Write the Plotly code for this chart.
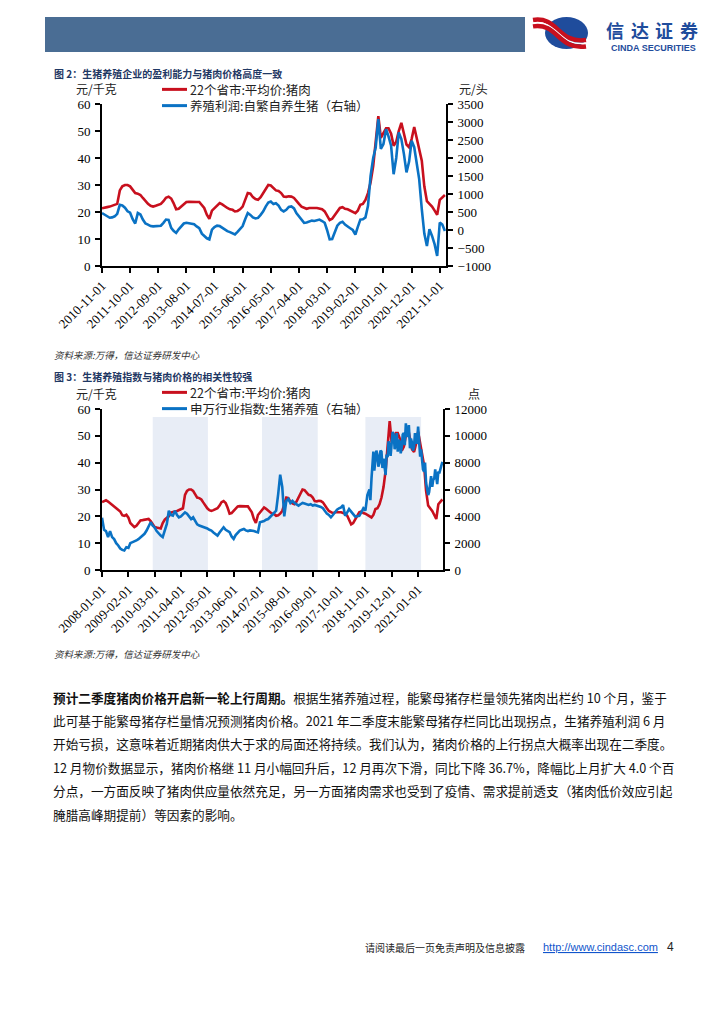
import plotly.graph_objects as go
import pandas as pd

# the page body adds an 8px margin, so the figure is drawn 8px smaller and
# every page coordinate is shifted by that margin
PAGE_W, PAGE_H = 724, 1024
OFF = 8
W, H = PAGE_W - OFF, PAGE_H - OFF
CJK = "Noto Sans CJK SC"
SERIF = "Liberation Serif"
RED = "#C8101E"
BLUE = "#0A72C4"
NAVY = "#1F3864"

# ---------------- data ----------------
pork_start = "2008-01-01"
pork_price = [
    25.3, 25.6, 26.0, 25.5, 24.9, 24.2, 23.5, 23.0, 22.6, 21.8, 20.4, 20.2,
    20.6, 19.5, 17.5, 16.6, 16.0, 16.5, 17.5, 18.5, 18.6, 18.8, 19.0, 19.0,
    18.2, 17.0, 16.0, 15.8, 15.6, 15.5, 17.5, 18.8, 19.5, 20.0, 21.4, 21.5,
    21.8, 22.0, 22.3, 22.5, 23.0, 28.0, 29.5, 30.0, 30.0, 29.5, 28.0, 27.0,
    26.8, 26.3, 25.2, 24.0, 23.0, 22.3, 22.0, 22.3, 22.7, 23.0, 24.0, 25.3,
    25.7, 25.0, 23.3, 21.0, 21.2, 22.0, 23.0, 23.7, 23.8, 23.7, 23.6, 23.7,
    23.7, 22.5, 21.5, 19.0, 17.5, 20.5, 21.5, 22.5, 23.3, 22.8, 22.0, 21.5,
    21.0, 20.8, 20.2, 20.4, 21.0, 22.0, 24.5, 27.0, 26.8, 25.5, 24.8, 24.5,
    25.5, 27.0, 28.5, 30.0, 29.8, 29.0, 28.0, 27.8, 27.0, 25.7, 25.6, 25.8,
    25.7, 25.2, 24.0, 23.0, 22.0, 21.5, 21.2, 21.5, 21.6, 21.5, 21.5, 21.3,
    21.0, 20.2, 18.5, 17.0, 17.5, 19.0, 20.5, 21.5, 21.8, 21.2, 21.0, 20.5,
    20.0, 19.6, 20.5, 22.7, 23.0, 24.5, 27.0, 31.0, 37.0, 45.0, 55.5, 47.5,
    49.0, 51.0, 51.0, 49.0, 44.5, 46.0, 50.0, 53.0, 49.0, 45.0, 44.0, 47.0,
    51.5, 47.0, 44.0, 39.0, 29.5, 24.0, 23.0, 22.0, 20.5, 19.0, 24.5, 25.5,
    26.3,
]

profit_start = "2010-11-01"
hog_profit = [
    470, 420,
    380, 340, 350, 380, 450, 700, 680, 620, 520, 480, 300, 180,
    470, 430, 290, 180, 150, 110, 100, 110, 110, 120, 200, 290,
    280, 60, -20, -80, 20, 110, 180, 200, 190, 170, 160, 100,
    50, -100, -170, -230, -260, 10, 80, 120, 110, 60, 0, -30,
    -60, -100, -125, -50, 40, 110, 300, 470, 420, 350, 320, 335,
    420, 517, 650, 760, 790, 720, 745, 680, 560, 517, 560, 640,
    655, 600, 470, 380, 280, 200, 210, 245, 260, 250, 270, 290,
    250, 200, 0, -260, -250, -50, 120, 200, 230, 150, 110, 50,
    0, -125, 80, 290, 300, 350, 670, 1500, 2000, 2300, 3080, 2250,
    2390, 2800, 2600, 2340, 1550, 2000, 2710, 2525, 2100, 1600, 1900, 2480,
    2300, 1876, 1412, 577, -100, -443, 20, -165, -400, -722, 206, 150,
    -26,
]

# Shenwan hog-farming index, start-of-month readings
index_start = "2008-01-01"
sw_index = [
    3900, 3000, 2900, 2450, 2900, 2450, 2300, 2000, 1830, 1600, 1500, 1450,
    1700, 1650, 2000, 2070, 2100, 2200, 2300, 2450, 2570, 2700, 2940, 3200,
    3560, 3300, 3185, 2900, 2700, 2570, 2450, 2900, 3430, 4420, 4100, 4050,
    4420, 4100, 3925, 4000, 4150, 4300, 4200, 4000, 3800, 3925, 3600, 3400,
    3310, 3250, 3200, 3185, 3100, 3000, 2940, 2800, 2700, 2570, 2800, 3000,
    3185, 3000, 2900, 2820, 2500, 2320, 2600, 2800, 2940, 3000, 3060, 2950,
    2900, 2950, 2940, 2900, 2850, 2810, 3560, 3600, 3650, 3750, 3800, 3950,
    4100, 4250, 4420, 5650, 7100, 6200, 4000, 5160, 5300, 5000, 5160, 5000,
    4900, 4800, 4900, 5000, 4950, 4910, 4850, 4900, 4800, 4850, 4800, 4800,
    4700, 4600, 4420, 4200, 4100, 3925, 4100, 4300, 4500, 4600, 4670, 4840,
    4040, 4300, 4540, 4350, 4180, 3975, 4000, 4040, 4300, 4600, 4420, 5590,
    6000, 6830, 8820, 8200, 8570, 8000, 8820, 8300, 7080, 8400, 9190, 9500,
    10060, 9500, 8820, 9560, 9200, 10200, 10930, 10000, 9070, 9500, 9190, 9800,
    10680, 8450, 8000, 7330, 6500, 5590, 6580, 6200, 6830, 6900, 7330, 7500,
    8070,
]
# mid-month readings of the same index for the volatile 2019-2021 stretch
index_mid_start = "2019-01-01"
sw_index_mid = [
    5200, 8200, 7400, 8900, 7700, 8900, 7600, 7800, 8600, 9600, 8500, 10300,
    9000, 10200, 9700, 8700, 10100, 9300, 10000, 10800, 9800, 8900, 10200, 9400,
    9500, 9000, 7500, 8000, 6000, 5800, 7000, 6700, 7500, 6400, 7200, 7900,
]

chart1_ticks = ["2010-11-01", "2011-10-01", "2012-09-01", "2013-08-01", "2014-07-01",
                "2015-06-01", "2016-05-01", "2017-04-01", "2018-03-01", "2019-02-01",
                "2020-01-01", "2020-12-01", "2021-11-01"]
chart2_ticks = ["2008-01-01", "2009-02-01", "2010-03-01", "2011-04-01", "2012-05-01",
                "2013-06-01", "2014-07-01", "2015-08-01", "2016-09-01", "2017-10-01",
                "2018-11-01", "2019-12-01", "2021-01-01"]
shade_periods = [("2010-02-01", "2012-05-10"),
                 ("2014-08-01", "2016-11-15"),
                 ("2018-11-01", "2021-02-15")]
shade_top = 57

series1_name = "22个省市:平均价:猪肉"
series2_name = "养殖利润:自繁自养生猪（右轴）"
series3_name = "申万行业指数:生猪养殖（右轴）"

# ---------------- helpers ----------------
def px(x):
    return (x - OFF) / W

def py(y):
    return 1 - (y - OFF) / H

pork_dates = pd.date_range(pork_start, periods=len(pork_price), freq="MS")
profit_dates = pd.date_range(profit_start, periods=len(hog_profit), freq="MS")

idx_a = pd.DataFrame({"d": pd.date_range(index_start, periods=len(sw_index), freq="MS"),
                      "v": sw_index})
idx_b = pd.DataFrame({"d": pd.date_range(index_mid_start, periods=len(sw_index_mid), freq="MS")
                      + pd.Timedelta(days=14), "v": sw_index_mid})
idx = pd.concat([idx_a, idx_b]).sort_values("d")

pork_df = pd.DataFrame({"d": pork_dates, "v": pork_price})
pork1 = pork_df[pork_df["d"] >= pd.Timestamp(profit_start)]

LW = 2.6
fig = go.Figure()
fig.add_trace(go.Scatter(x=pork1["d"], y=pork1["v"], mode="lines", name=series1_name,
                         line=dict(color=RED, width=LW), xaxis="x", yaxis="y", showlegend=False))
fig.add_trace(go.Scatter(x=profit_dates, y=hog_profit, mode="lines", name=series2_name,
                         line=dict(color=BLUE, width=LW), xaxis="x", yaxis="y2", showlegend=False))
fig.add_trace(go.Scatter(x=pork_dates, y=pork_price, mode="lines", name=series1_name,
                         line=dict(color=RED, width=LW), xaxis="x2", yaxis="y3", showlegend=False))
fig.add_trace(go.Scatter(x=idx["d"], y=idx["v"], mode="lines", name=series3_name,
                         line=dict(color=BLUE, width=LW), xaxis="x2", yaxis="y4", showlegend=False))

tickfont = dict(family=SERIF, size=13, color="black")
common_x = dict(type="date", tickangle=-45, ticks="outside", ticklen=5, tickwidth=1.5,
                tickcolor="black", showline=True, linecolor="black", linewidth=2,
                showgrid=False, zeroline=False, tickfont=tickfont, automargin=False)
common_y = dict(ticks="outside", ticklen=5, tickwidth=1.5, tickcolor="black",
                showline=True, linecolor="black", linewidth=2, showgrid=False,
                zeroline=False, tickfont=tickfont, ticklabelstandoff=2,
                automargin=False, tickformat="d")

fig.update_layout(
    width=W, height=H, margin=dict(l=0, r=0, t=0, b=0, autoexpand=False),
    paper_bgcolor="white", plot_bgcolor="rgba(0,0,0,0)", showlegend=False,
    xaxis=dict(domain=[px(102), px(446)], anchor="y",
               range=["2010-11-01", "2022-01-14"],
               tickvals=chart1_ticks, ticktext=chart1_ticks, **common_x),
    yaxis=dict(domain=[py(266), py(104)], anchor="x", range=[0, 60], dtick=10, **common_y),
    yaxis2=dict(overlaying="y", anchor="x", side="right", range=[-1000, 3500], dtick=500, **common_y),
    xaxis2=dict(domain=[px(102), px(443)], anchor="y3",
                range=["2008-01-01", "2022-01-10"],
                tickvals=chart2_ticks, ticktext=chart2_ticks, **common_x),
    yaxis3=dict(domain=[py(570), py(409)], anchor="x2", range=[0, 60], dtick=10, **common_y),
    yaxis4=dict(overlaying="y3", anchor="x2", side="right", range=[0, 12000], dtick=2000, **common_y),
)

shapes = []
# shaded periods
for s0, s1 in shade_periods:
    shapes.append(dict(type="rect", xref="x2", yref="y3", x0=s0, x1=s1, y0=0, y1=shade_top,
                       fillcolor="#E8EDF6", line=dict(width=0), layer="below"))
# header bar
shapes.append(dict(type="rect", xref="paper", yref="paper", x0=px(45), x1=px(525),
                   y0=py(52), y1=py(17), fillcolor="#4A6D94", line=dict(width=0)))
# logo sphere
shapes.append(dict(type="circle", xref="paper", yref="paper", x0=px(545), x1=px(588),
                   y0=py(49), y1=py(17), fillcolor="#1F4C9C", line=dict(width=0)))

def path(points):
    s = "M {} {}".format(px(points[0][0]), py(points[0][1]))
    s += " C " + " ".join("{} {}".format(px(a), py(b)) for a, b in points[1:])
    return s

for off, col, w in [(0, RED, 4.5), (3.2, "white", 1.5), (6.4, RED, 4.5)]:
    shapes.append(dict(type="path", xref="paper", yref="paper",
                       path=path([(533, 20 + off), (558, 16 + off), (558, 44 + off), (586, 40 + off)]),
                       line=dict(color=col, width=w)))

ann = []
def text(x, y, s, size, color="#222", family=CJK, anchor="left", yanchor="middle", **kw):
    ann.append(dict(x=px(x), y=py(y), xref="paper", yref="paper", text=s, showarrow=False,
                    xanchor=anchor, yanchor=yanchor,
                    font=dict(family=family, size=size, color=color), **kw))

LEG_FS = 12.5
def legend_block(yc, items):
    # one two-line text block; line centres sit half a line-height above/below yc
    half = LEG_FS * 1.3 / 2
    for (color, _), yy in zip(items, (yc - half, yc + half)):
        shapes.append(dict(type="line", xref="paper", yref="paper", x0=px(162), x1=px(187),
                           y0=py(yy), y1=py(yy), line=dict(color=color, width=3)))
    text(189, yc, "<br>".join(lbl for _, lbl in items), LEG_FS, borderpad=0, align="left")

# logo text
for i, ch in enumerate("信达证券"):
    text(615 + i * 24.5, 30.5, "<b>" + ch + "</b>", 18, color="#1F4C9C", anchor="center")
text(653, 48, "<b>CINDA SECURITIES</b>", 9, color="#1F4C9C", family="Liberation Sans", anchor="center")

# chart 1 texts
text(52, 73, "<b>图 2：生猪养殖企业的盈利能力与猪肉价格高度一致</b>", 10, color=NAVY)
text(74, 88.5, "元/千克", 12)
text(457, 88.5, "元/头", 12)
legend_block(97.5, [(RED, series1_name), (BLUE, series2_name)])
text(52, 355, "<i>资料来源:万得，信达证券研发中心</i>", 9.5, color="#333")

# chart 2 texts
text(52, 376, "<b>图 3：生猪养殖指数与猪肉价格的相关性较强</b>", 10, color=NAVY)
text(74, 393, "元/千克", 12)
text(466, 393, "点", 12)
legend_block(400.5, [(RED, series1_name), (BLUE, series3_name)])
text(52, 654, "<i>资料来源:万得，信达证券研发中心</i>", 9.5, color="#333")

# body text
body_lines = [
    "<b>预计二季度猪肉价格开启新一轮上行周期。</b>根据生猪养殖过程，能繁母猪存栏量领先猪肉出栏约 10 个月，鉴于",
    "此可基于能繁母猪存栏量情况预测猪肉价格。2021 年二季度末能繁母猪存栏同比出现拐点，生猪养殖利润 6 月",
    "开始亏损，这意味着近期猪肉供大于求的局面还将持续。我们认为，猪肉价格的上行拐点大概率出现在二季度。",
    "12 月物价数据显示，猪肉价格继 11 月小幅回升后，12 月再次下滑，同比下降 36.7%，降幅比上月扩大 4.0 个百",
    "分点，一方面反映了猪肉供应量依然充足，另一方面猪肉需求也受到了疫情、需求提前透支（猪肉低价效应引起",
    "腌腊高峰期提前）等因素的影响。",
]
for i, line in enumerate(body_lines):
    text(51, 697 + i * 23.4, line, 12.65, color="#111")

# footer
text(527, 947, "请阅读最后一页免责声明及信息披露", 10, color="#222", anchor="right")
text(541, 947, "<u>http://www.cindasc.com</u>", 11, color="#1155CC", family="Liberation Sans")
text(665, 947, "4", 12, color="#222", family="Liberation Sans")

fig.update_layout(shapes=shapes, annotations=ann)

fig.write_html("out.html")
